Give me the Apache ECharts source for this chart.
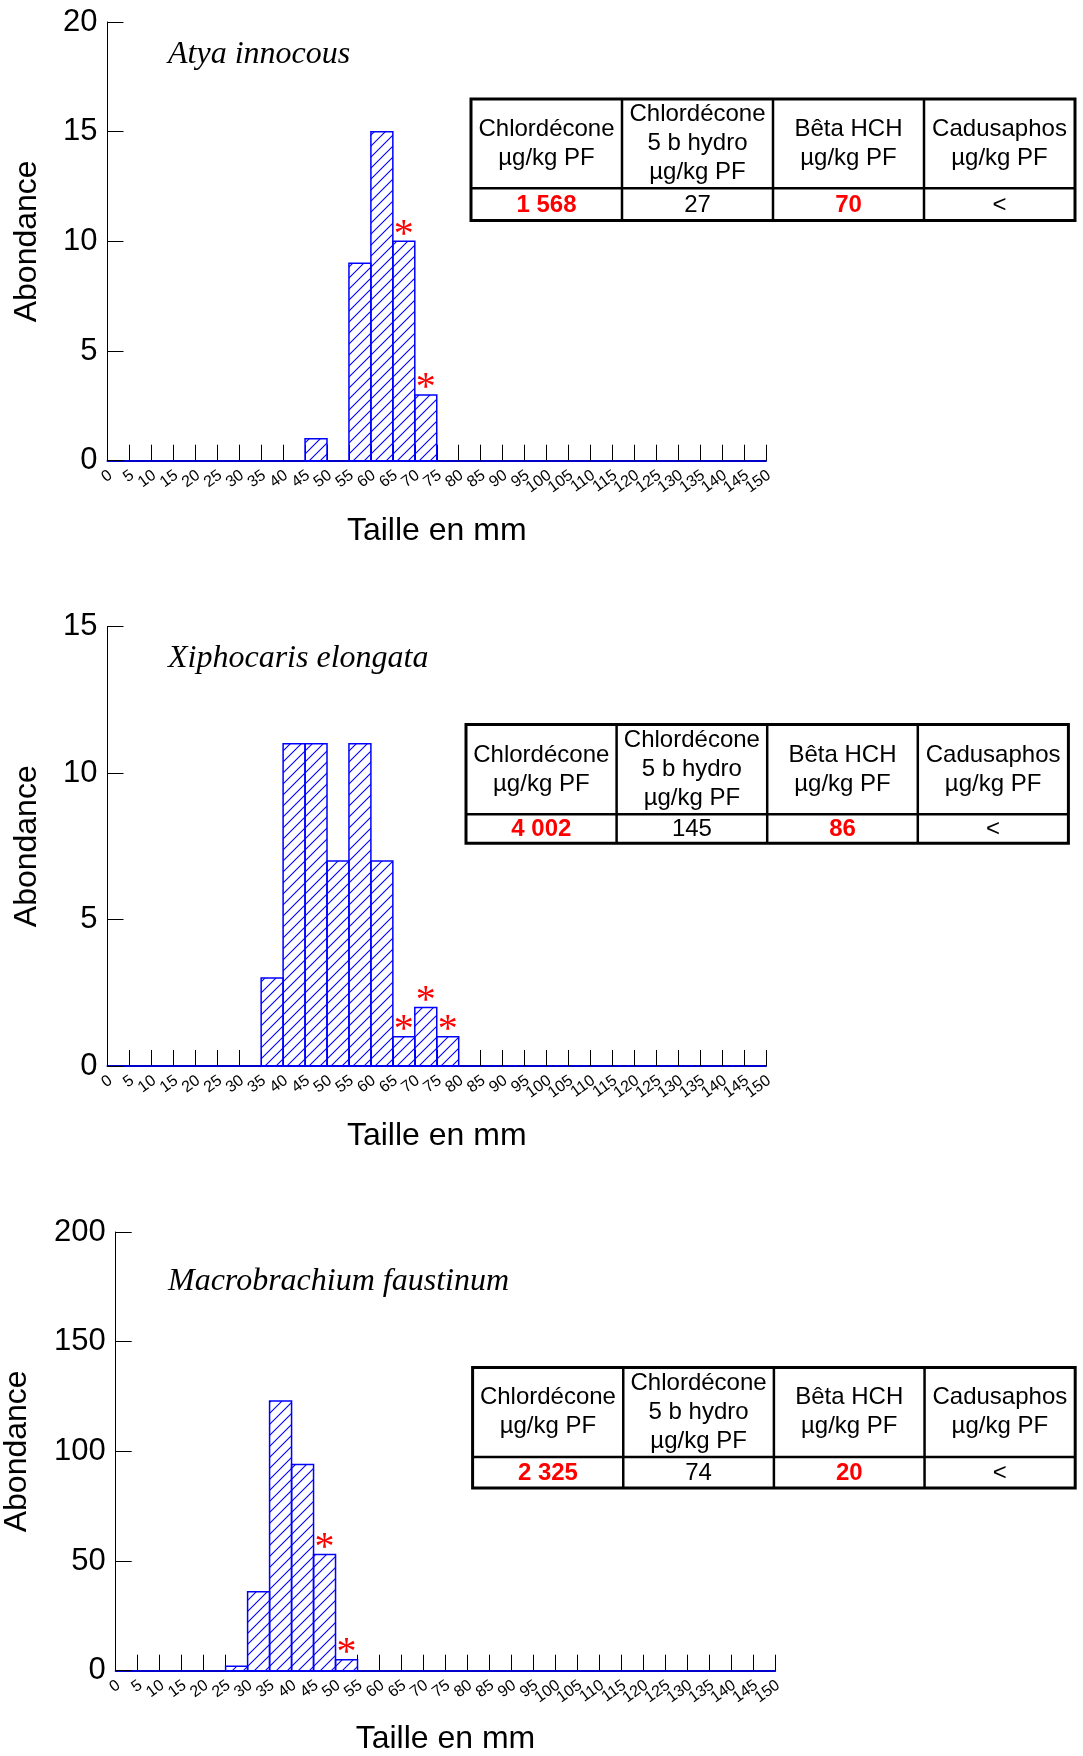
<!DOCTYPE html>
<html>
<head>
<meta charset="utf-8">
<script src="https://cdn.jsdelivr.net/npm/echarts@6/dist/echarts.min.js"></script>
<style>
html,body{margin:0;padding:0;background:#fff;}
#chart{width:1083px;height:1756px;}
</style>
</head>
<body>
<div id="chart"></div>
<script>
// ---------------- DATA ----------------
const sizeTicks = [0,5,10,15,20,25,30,35,40,45,50,55,60,65,70,75,80,85,90,95,100,105,110,115,120,125,130,135,140,145,150];
const binWidth = 5;
const binStarts = [0,5,10,15,20,25,30,35,40,45,50,55,60,65,70,75,80,85,90,95,100,105,110,115,120,125,130,135,140,145];

const atyaCounts  = [0,0,0,0,0,0,0,0,0,1,0,9,15,10,3,0,0,0,0,0,0,0,0,0,0,0,0,0,0,0];
const atyaMarked  = [65,70];
const xiphoCounts = [0,0,0,0,0,0,0,3,11,11,7,11,7,1,2,1,0,0,0,0,0,0,0,0,0,0,0,0,0,0];
const xiphoMarked = [65,70,75];
const macroCounts = [0,0,0,0,0,2,36,123,94,53,5,0,0,0,0,0,0,0,0,0,0,0,0,0,0,0,0,0,0,0];
const macroMarked = [45,50];

const atyaYTicks  = [0,5,10,15,20];
const xiphoYTicks = [0,5,10,15];
const macroYTicks = [0,50,100,150,200];

const speciesNames = ['Atya innocous','Xiphocaris elongata','Macrobrachium faustinum'];
const xAxisTitle = 'Taille en mm';
const yAxisTitle = 'Abondance';

const tableHeaders = ['Chlordécone\nµg/kg PF','Chlordécone\n5 b hydro\nµg/kg PF','Bêta HCH\nµg/kg PF','Cadusaphos\nµg/kg PF'];
const atyaTable  = ['1 568','27','70','<'];
const xiphoTable = ['4 002','145','86','<'];
const macroTable = ['2 325','74','20','<'];
const tableHighlight = [true,false,true,false];

// ---------------- LAYOUT ----------------
const panels = [
  {counts:atyaCounts, marked:atyaMarked, yTicks:atyaYTicks, name:speciesNames[0], table:atyaTable,
   grid:{left:107.5, top:22, width:658.5, height:438.7}, yNameGap:80, xNameGap:70,
   tbl:{x:471, y:99, w:604, hh:89.3, vh:32.3}, titleY:53},
  {counts:xiphoCounts, marked:xiphoMarked, yTicks:xiphoYTicks, name:speciesNames[1], table:xiphoTable,
   grid:{left:107.5, top:626.5, width:658.5, height:439.5}, yNameGap:80, xNameGap:70,
   tbl:{x:466, y:724.6, w:602.4, hh:89.6, vh:29}, titleY:657},
  {counts:macroCounts, marked:macroMarked, yTicks:macroYTicks, name:speciesNames[2], table:macroTable,
   grid:{left:115.7, top:1232, width:659.5, height:438.7}, yNameGap:99, xNameGap:68,
   tbl:{x:472.6, y:1367.5, w:602.6, hh:89.5, vh:31}, titleY:1280}
];

function makeHatch(){
  const s = 11;
  const c = document.createElement('canvas');
  c.width = s; c.height = s;
  const g = c.getContext('2d');
  g.strokeStyle = '#0000ff';
  g.lineWidth = 1.1;
  g.beginPath();
  g.moveTo(-1, 1); g.lineTo(1, -1);
  g.moveTo(-1, s+1); g.lineTo(s+1, -1);
  g.moveTo(s-1, s+1); g.lineTo(s+1, s-1);
  g.stroke();
  return c;
}
const hatch = {image: makeHatch(), repeat: 'repeat'};

const SANS = 'Liberation Sans, Arial, sans-serif';
const SERIF = 'Liberation Serif, Times New Roman, serif';
const LABEL_ROT = 36 * Math.PI / 180;

const grids = [], xAxes = [], yAxes = [], series = [], graphics = [];

panels.forEach((p, i) => {
  grids.push(Object.assign({containLabel:false, outerBoundsMode:'none'}, p.grid));
  xAxes.push({
    gridIndex:i, type:'value', min:sizeTicks[0], max:sizeTicks[sizeTicks.length-1], interval:binWidth,
    name:xAxisTitle, nameLocation:'middle', nameGap:p.xNameGap,
    nameTextStyle:{fontSize:32, color:'#000', fontFamily:SANS, verticalAlign:'middle'},
    axisLine:{show:true, onZero:false, lineStyle:{color:'#0000cc', width:2}},
    axisTick:{show:true, inside:true, length:16, lineStyle:{color:'#000', width:1}},
    axisLabel:{show:false},
    splitLine:{show:false}
  });
  const yMax = p.yTicks[p.yTicks.length-1];
  yAxes.push({
    gridIndex:i, type:'value', min:p.yTicks[0], max:yMax, interval:p.yTicks[1]-p.yTicks[0],
    name:yAxisTitle, nameLocation:'middle', nameGap:p.yNameGap, nameRotate:90,
    nameTextStyle:{fontSize:32, color:'#000', fontFamily:SANS, verticalAlign:'middle'},
    axisLine:{show:true, lineStyle:{color:'#000', width:1}},
    axisTick:{show:true, inside:true, length:16, lineStyle:{color:'#000', width:1}},
    axisLabel:{show:true, fontSize:31, color:'#000', fontFamily:SANS, margin:10, showMinLabel:true, showMaxLabel:true},
    splitLine:{show:false}
  });
  // slanted size labels at every tick, placed through the x scale
  series.push({
    type:'custom', xAxisIndex:i, yAxisIndex:i, data:sizeTicks.map(v => [v, 0]), silent:true, z:5, clip:false,
    renderItem:function(params, api){
      const v = api.value(0);
      const c = api.coord([v, 0]);
      return {type:'text', x:c[0] + 3, y:c[1] + 13, rotation:LABEL_ROT,
              style:{text:String(v), fill:'#000', fontSize:16, fontFamily:SANS, align:'right', verticalAlign:'middle'}};
    }
  });
  const histData = binStarts.map((s, k) => [s, s + binWidth, p.counts[k]]);
  series.push({
    type:'custom', xAxisIndex:i, yAxisIndex:i, data:histData, silent:true, z:3,
    renderItem:function(params, api){
      const v = api.value(2);
      if (!v) return null;
      const a = api.coord([api.value(0), v]);
      const b = api.coord([api.value(1), 0]);
      return {type:'rect', shape:{x:a[0], y:a[1], width:b[0]-a[0], height:b[1]-a[1]},
              style:{fill:hatch, stroke:'#0000ff', lineWidth:1.5}};
    }
  });
  const markData = p.marked.map(s => [s + binWidth/2, p.counts[binStarts.indexOf(s)]]);
  series.push({
    type:'custom', xAxisIndex:i, yAxisIndex:i, data:markData, silent:true, z:4,
    renderItem:function(params, api){
      const c = api.coord([api.value(0), api.value(1)]);
      return {type:'text', x:c[0], y:c[1]-6,
              style:{text:'*', fill:'#ff0000', fontSize:40, fontFamily:SERIF, align:'center', verticalAlign:'middle'}};
    }
  });

  // species title
  graphics.push({type:'text', left:168, top:p.titleY-14, z:10,
    style:{text:p.name, fontSize:32, fontStyle:'italic', fontFamily:SERIF, fill:'#000'}});

  // table
  const t = p.tbl, cw = t.w / 4;
  graphics.push({type:'rect', z:10, shape:{x:t.x, y:t.y, width:t.w, height:t.hh + t.vh},
    style:{fill:'#fff', stroke:'#000', lineWidth:3}});
  for (let k = 1; k < 4; k++) {
    graphics.push({type:'line', z:11, shape:{x1:t.x + cw*k, y1:t.y, x2:t.x + cw*k, y2:t.y + t.hh + t.vh},
      style:{stroke:'#000', lineWidth:2.5}});
  }
  graphics.push({type:'line', z:11, shape:{x1:t.x, y1:t.y + t.hh, x2:t.x + t.w, y2:t.y + t.hh},
    style:{stroke:'#000', lineWidth:2.5}});
  for (let k = 0; k < 4; k++) {
    graphics.push({type:'text', z:12, x:t.x + cw*(k+0.5), y:t.y + t.hh/2,
      style:{text:tableHeaders[k], fontSize:24, lineHeight:29, fontFamily:SANS, fill:'#000', align:'center', verticalAlign:'middle'}});
    graphics.push({type:'text', z:12, x:t.x + cw*(k+0.5), y:t.y + t.hh + t.vh/2 + 1,
      style:{text:p.table[k], fontSize:24, fontFamily:SANS, fontWeight: tableHighlight[k] ? 'bold' : 'normal',
             fill: tableHighlight[k] ? '#ff0000' : '#000', align:'center', verticalAlign:'middle'}});
  }
});

const chart = echarts.init(document.getElementById('chart'), null, {renderer:'canvas'});
chart.setOption({
  backgroundColor:'#fff',
  animation:false,
  grid:grids, xAxis:xAxes, yAxis:yAxes, series:series, graphic:graphics
});
</script>
</body>
</html>
